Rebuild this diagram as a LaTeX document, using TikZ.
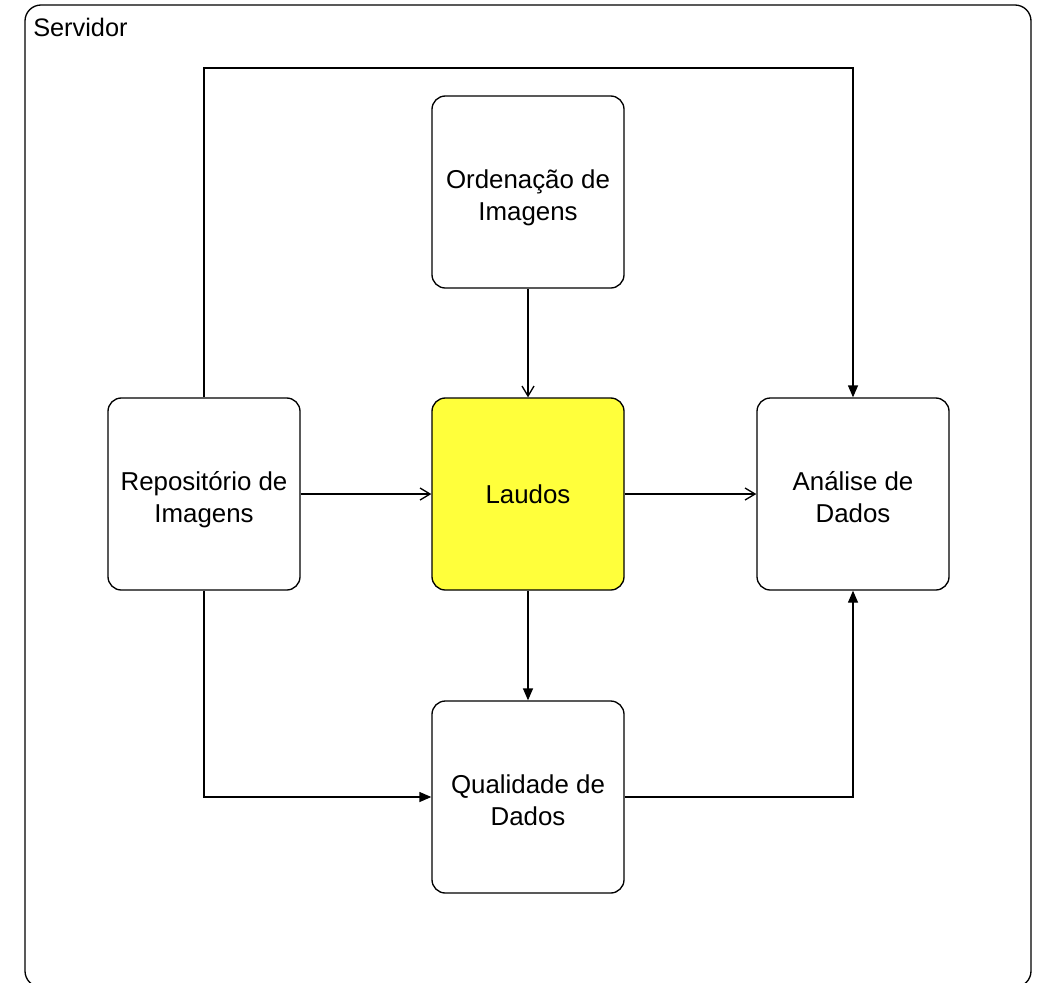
\documentclass[tikz,border=0pt]{standalone}
\usepackage{fontspec}
\setmainfont{Liberation Sans}
\usetikzlibrary{arrows.meta}
\tikzset{
  bloco/.style={draw, line width=1pt, rounded corners=10, minimum width=192*0.75pt,
    minimum height=192*0.75pt, align=center, font=\fontsize{19.4}{23.3}\selectfont},
  duas linhas/.style={text height=42pt, text depth=0pt},
  abre/.style={-{Straight Barb[length=7.5pt,width=9pt]}, line width=1pt},
  cheia/.style={-{Triangle[length=9pt,width=7.5pt]}, line width=1pt}
}
\begin{document}
\begin{tikzpicture}[x=0.75pt,y=0.75pt,yscale=-1,xscale=1]
  \useasboundingbox (0,0) rectangle (1041,982);
  \clip (0,0) rectangle (1041,982);
  \draw[line width=1pt, rounded corners=12] (25,5) rectangle (1031,987);
  \draw (33,36) node[anchor=base west, inner sep=0pt, font=\fontsize{19}{23}\selectfont] (servidor) {Servidor};

  \draw (528,192) node[bloco, duas linhas] (ordenacao) {Ordenação de\\Imagens};
  \draw (528,494) node[bloco, fill={rgb,255:red,255;green,255;blue,59}] (laudos) {Laudos};
  \draw (204,494) node[bloco, duas linhas] (repositorio) {Repositório de\\Imagens};
  \draw (853,494) node[bloco, duas linhas] (analise) {Análise de\\Dados};
  \draw (528,797) node[bloco, duas linhas] (qualidade) {Qualidade de\\Dados};

  \draw[abre] (ordenacao) -- (laudos);
  \draw[abre] (repositorio) -- (laudos);
  \draw[abre] (laudos) -- (analise);
  \draw[cheia] (laudos) -- (qualidade);
  \draw[cheia] (repositorio.north) |- (528,68) -| (analise.north);
  \draw[cheia] (repositorio.south) |- (qualidade.west);
  \draw[cheia] (qualidade.east) -| (analise.south);
\end{tikzpicture}
\end{document}
